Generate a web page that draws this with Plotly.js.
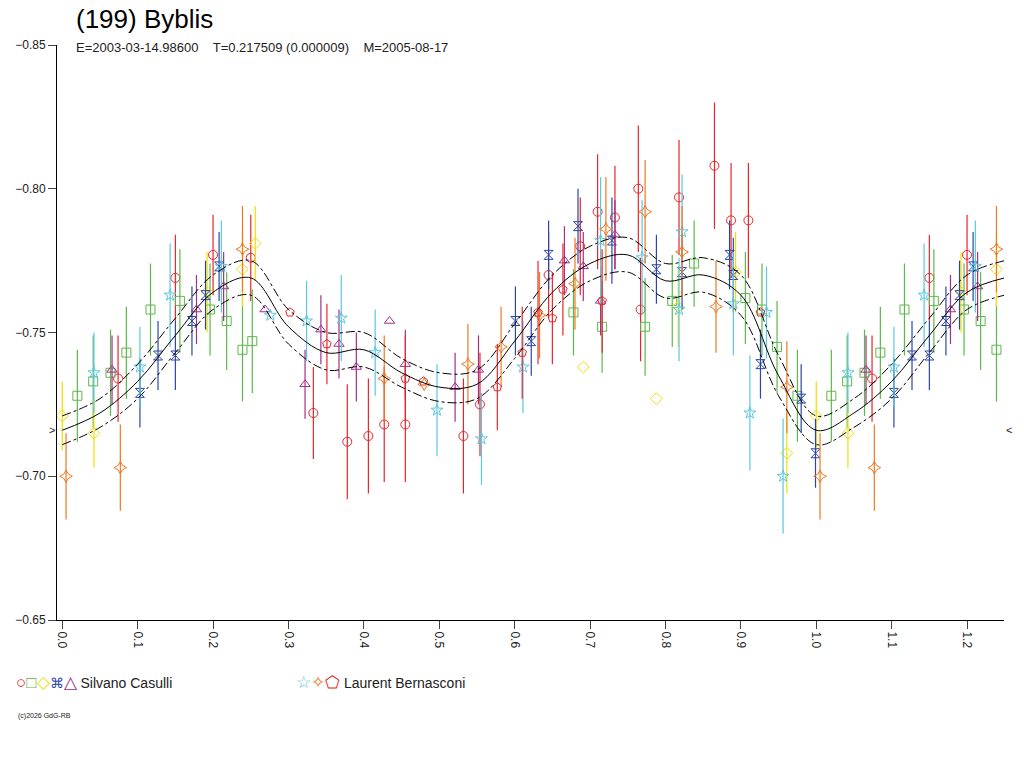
<!DOCTYPE html>
<html>
<head>
<meta charset="utf-8">
<script src="https://cdn.plot.ly/plotly-3.0.1.min.js"></script>
<style>body{margin:0;background:#fff}</style>
</head>
<body>
<div id="my_plot" style="width:1024px;height:768px"></div>
<script>
// fitted curve (phase, mag) and its envelope
curve_phase = [0.0, 0.05, 0.1, 0.15, 0.2, 0.25, 0.3, 0.35, 0.4, 0.45, 0.5, 0.55, 0.6, 0.65, 0.7, 0.75, 0.8, 0.85, 0.9, 0.95, 1.0, 1.05, 1.1, 1.15, 1.2, 1.25];
curve_mag = [-0.716, -0.722, -0.733, -0.749, -0.764, -0.769, -0.752, -0.743, -0.744, -0.736, -0.731, -0.732, -0.747, -0.764, -0.774, -0.777, -0.768, -0.770, -0.763, -0.735, -0.716, -0.722, -0.733, -0.749, -0.764, -0.769];
curve_hi = [-0.721, -0.727, -0.739, -0.755, -0.770, -0.775, -0.758, -0.750, -0.750, -0.741, -0.736, -0.737, -0.753, -0.770, -0.780, -0.783, -0.774, -0.776, -0.770, -0.742, -0.721, -0.727, -0.739, -0.755, -0.770, -0.775];
curve_lo = [-0.711, -0.717, -0.727, -0.743, -0.758, -0.763, -0.746, -0.737, -0.738, -0.731, -0.726, -0.727, -0.741, -0.758, -0.768, -0.771, -0.762, -0.764, -0.756, -0.728, -0.711, -0.717, -0.727, -0.743, -0.758, -0.763];

// Silvano Casulli
red_x = [0.074, 0.150, 0.200, 0.250, 0.333, 0.378, 0.406, 0.427, 0.455, 0.532, 0.554, 0.645, 0.687, 0.710, 0.733, 0.764, 0.767, 0.818, 0.865, 0.887, 0.910];
red_y = [-0.734, -0.769, -0.777, -0.776, -0.722, -0.712, -0.714, -0.718, -0.718, -0.714, -0.725, -0.770, -0.780, -0.792, -0.790, -0.800, -0.758, -0.797, -0.808, -0.789, -0.789];
red_e = [0.015, 0.015, 0.014, 0.015, 0.016, 0.020, 0.020, 0.020, 0.020, 0.020, 0.018, 0.015, 0.017, 0.020, 0.018, 0.022, 0.018, 0.020, 0.022, 0.020, 0.020];

green_x = [0.020, 0.041, 0.064, 0.085, 0.117, 0.156, 0.196, 0.218, 0.239, 0.252, 0.678, 0.716, 0.773, 0.809, 0.838, 0.906, 0.928, 0.948, 0.975];
green_y = [-0.728, -0.733, -0.736, -0.743, -0.758, -0.761, -0.758, -0.754, -0.744, -0.747, -0.757, -0.752, -0.752, -0.761, -0.774, -0.762, -0.758, -0.745, -0.728];
green_e = [0.016, 0.016, 0.015, 0.016, 0.016, 0.018, 0.016, 0.017, 0.018, 0.018, 0.015, 0.016, 0.017, 0.016, 0.015, 0.016, 0.016, 0.016, 0.016];

yellow_x = [0.000, 0.042, 0.192, 0.239, 0.256, 0.691, 0.788, 0.817, 0.893, 0.961];
yellow_y = [-0.721, -0.715, -0.764, -0.772, -0.781, -0.738, -0.727, -0.759, -0.771, -0.708];
yellow_e = [0.012, 0.012, 0.014, 0.013, 0.013, 0.000, 0.000, 0.014, 0.014, 0.014];

blue_x = [0.103, 0.127, 0.150, 0.172, 0.190, 0.208, 0.601, 0.622, 0.645, 0.684, 0.729, 0.788, 0.822, 0.885, 0.890, 0.926, 0.980, 0.999];
blue_y = [-0.729, -0.742, -0.742, -0.754, -0.763, -0.773, -0.754, -0.747, -0.777, -0.787, -0.782, -0.772, -0.771, -0.777, -0.770, -0.739, -0.727, -0.708];
blue_e = [0.012, 0.012, 0.012, 0.012, 0.012, 0.012, 0.012, 0.012, 0.012, 0.013, 0.015, 0.012, 0.013, 0.012, 0.013, 0.012, 0.012, 0.012];

purple_x = [0.066, 0.178, 0.214, 0.269, 0.322, 0.343, 0.367, 0.390, 0.434, 0.455, 0.521, 0.552, 0.666, 0.691, 0.714, 0.733];
purple_y = [-0.737, -0.758, -0.766, -0.758, -0.732, -0.751, -0.746, -0.738, -0.754, -0.739, -0.731, -0.737, -0.775, -0.773, -0.761, -0.784];
purple_e = [0.012, 0.012, 0.012, 0.000, 0.012, 0.012, 0.012, 0.012, 0.000, 0.012, 0.012, 0.012, 0.012, 0.012, 0.012, 0.012];

// Laurent Bernasconi
cyan_x = [0.042, 0.103, 0.143, 0.211, 0.276, 0.324, 0.370, 0.415, 0.497, 0.556, 0.611, 0.714, 0.769, 0.818, 0.822, 0.890, 0.912, 0.934, 0.956];
cyan_y = [-0.736, -0.738, -0.763, -0.773, -0.756, -0.754, -0.755, -0.743, -0.723, -0.713, -0.738, -0.782, -0.776, -0.758, -0.785, -0.760, -0.722, -0.757, -0.700];
cyan_e = [0.014, 0.014, 0.018, 0.016, 0.000, 0.014, 0.015, 0.015, 0.016, 0.016, 0.016, 0.022, 0.020, 0.018, 0.020, 0.018, 0.020, 0.016, 0.020];

orange_x = [0.005, 0.077, 0.239, 0.427, 0.480, 0.538, 0.582, 0.633, 0.680, 0.721, 0.773, 0.822, 0.867, 0.961];
orange_y = [-0.700, -0.703, -0.779, -0.734, -0.732, -0.739, -0.745, -0.756, -0.767, -0.786, -0.792, -0.778, -0.759, -0.731];
orange_e = [0.015, 0.015, 0.015, 0.015, 0.000, 0.014, 0.014, 0.015, 0.016, 0.018, 0.018, 0.016, 0.016, 0.016];

pent_x = [0.302, 0.351, 0.455, 0.479, 0.577, 0.610, 0.631, 0.650, 0.664, 0.716, 0.926];
pent_y = [-0.757, -0.746, -0.734, -0.733, -0.731, -0.743, -0.757, -0.755, -0.765, -0.761, -0.757];
pent_e = [0.000, 0.014, 0.015, 0.000, 0.015, 0.016, 0.018, 0.016, 0.016, 0.018, 0.000];

function series(px, py, pe, color, symbol) {
    // points are repeated one cycle on for phases below 0.25
    var x = px.slice(), y = py.slice(), e = pe.slice();
    for (var i = 0; i < px.length; i++) {
        if (px[i] < 0.25) {
            x.push(px[i] + 1); y.push(py[i]); e.push(pe[i]);
        }
    }
    return {
        type: "scatter", mode: "markers", x: x, y: y, showlegend: false,
        marker: {symbol: symbol, size: 9, color: color, line: {color: color, width: 1}},
        error_y: {type: "data", array: e, color: color, thickness: 1.2, width: 0},
    };
}

function make_plot() {
    var data = [
        series(red_x, red_y, red_e, "#e8262a", "circle-open"),
        series(green_x, green_y, green_e, "#5cb84a", "square-open"),
        series(yellow_x, yellow_y, yellow_e, "#f0e000", "diamond-open"),
        series(blue_x, blue_y, blue_e, "#2a46a8", "hourglass-open"),
        series(purple_x, purple_y, purple_e, "#a0308a", "triangle-up-open"),
        series(cyan_x, cyan_y, cyan_e, "#5ac8e0", "star-open"),
        series(orange_x, orange_y, orange_e, "#f07820", "star-diamond-open"),
        series(pent_x, pent_y, pent_e, "#e8262a", "pentagon-open"),
        {type: "scatter", mode: "lines", x: curve_phase, y: curve_mag, showlegend: false,
         line: {color: "#000", width: 1, shape: "spline"}},
        {type: "scatter", mode: "lines", x: curve_phase, y: curve_hi, showlegend: false,
         line: {color: "#000", width: 1, shape: "spline", dash: "dashdot"}},
        {type: "scatter", mode: "lines", x: curve_phase, y: curve_lo, showlegend: false,
         line: {color: "#000", width: 1, shape: "spline", dash: "dashdot"}},
    ];

    var layout = {
        width: 1024, height: 768,
        margin: {l: 57, r: 20, t: 45, b: 148},
        paper_bgcolor: "#fff", plot_bgcolor: "#fff",
        font: {family: "Liberation Sans, Arial, sans-serif", size: 12, color: "#222"},
        hovermode: false,
        xaxis: {
            range: [-0.007, 1.249], dtick: 0.1, tick0: 0, tickformat: ".1f",
            tickangle: 90, ticks: "outside", ticklen: 8, showgrid: false, zeroline: false,
            showline: true, linecolor: "#000",
        },
        yaxis: {
            range: [-0.65, -0.85], dtick: 0.05, tick0: -0.85, tickformat: ".2f",
            ticks: "outside", ticklen: 8, showgrid: false, zeroline: false,
            showline: true, linecolor: "#000",
        },
        annotations: [
            {xref: "paper", yref: "paper", x: 0.018, y: 1.075, xanchor: "left", yanchor: "top", showarrow: false,
             text: "(199) Byblis", font: {size: 26, color: "#000"}},
            {xref: "paper", yref: "paper", x: 0.018, y: 0.995, xanchor: "left", yanchor: "middle", showarrow: false,
             text: "E=2003-03-14.98600    T=0.217509 (0.000009)    M=2005-08-17", font: {size: 13}},
            {xref: "paper", yref: "y", x: 0, y: -0.716, xanchor: "right", showarrow: false, text: ">", font: {size: 11}},
            {xref: "paper", yref: "y", x: 1, y: -0.716, xanchor: "left", showarrow: false, text: "<", font: {size: 11}},
            {xref: "paper", yref: "paper", x: -0.045, y: -0.128, xanchor: "left", showarrow: false,
             text: "<span style='color:#e8262a;font-size:17px'>○</span><span style='color:#5cb84a;font-size:17px'>□</span><span style='color:#f0e000;font-size:17px'>◇</span><span style='color:#2a46a8'>⌘</span><span style='color:#a0308a;font-size:17px'>△</span> Silvano Casulli",
             font: {size: 14}},
            {xref: "paper", yref: "paper", x: 0.25, y: -0.128, xanchor: "left", showarrow: false,
             text: "<span style='color:#5ac8e0;font-size:17px'>☆</span><span style='color:#f07820;font-size:17px'>✧</span><span style='color:#e8262a;font-size:17px'>⬠</span> Laurent Bernasconi",
             font: {size: 14}},
            {xref: "paper", yref: "paper", x: -0.043, y: -0.178, xanchor: "left", showarrow: false,
             text: "(c)2026 GdG-RB", font: {size: 7}},
        ],
    };

    Plotly.newPlot("my_plot", data, layout, {staticPlot: true});
}
make_plot();
</script>
</body>
</html>
